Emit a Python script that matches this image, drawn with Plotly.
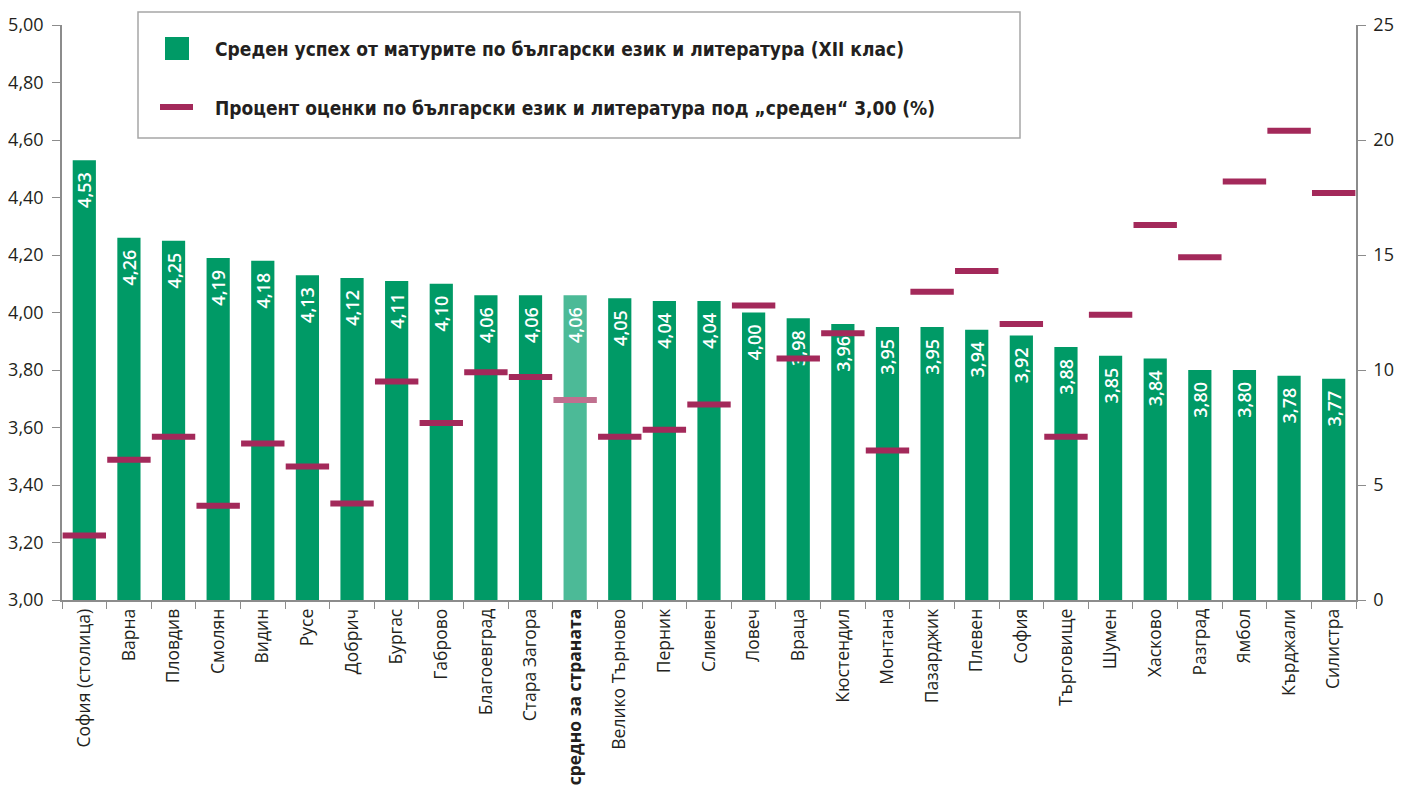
import plotly.graph_objects as go

regions = ["София (столица)", "Варна", "Пловдив", "Смолян", "Видин", "Русе", "Добрич",
           "Бургас", "Габрово", "Благоевград", "Стара Загора", "средно за страната",
           "Велико Търново", "Перник", "Сливен", "Ловеч", "Враца", "Кюстендил", "Монтана",
           "Пазарджик", "Плевен", "София", "Търговище", "Шумен", "Хасково", "Разград",
           "Ямбол", "Кърджали", "Силистра"]
avg_grade = [4.53, 4.26, 4.25, 4.19, 4.18, 4.13, 4.12, 4.11, 4.10, 4.06, 4.06, 4.06,
             4.05, 4.04, 4.04, 4.00, 3.98, 3.96, 3.95, 3.95, 3.94, 3.92, 3.88, 3.85,
             3.84, 3.80, 3.80, 3.78, 3.77]
pct_below3 = [2.8, 6.1, 7.1, 4.1, 6.8, 5.8, 4.2, 9.5, 7.7, 9.9, 9.7, 8.7,
              7.1, 7.4, 8.5, 12.8, 10.5, 11.6, 6.5, 13.4, 14.3, 12.0, 7.1, 12.4,
              16.3, 14.9, 18.2, 20.4, 17.7]
left_ticks = [3.0, 3.2, 3.4, 3.6, 3.8, 4.0, 4.2, 4.4, 4.6, 4.8, 5.0]
right_ticks = [0, 5, 10, 15, 20, 25]
legend_bar = "Среден успех от матурите по български език и литература (XII клас)"
legend_mark = "Процент оценки по български език и литература под „среден“ 3,00 (%)"
mean_name = "средно за страната"

GREEN = "#009A66"
GREEN_L = "#4CBA97"
RED = "#A3295A"
RED_L = "#C0708F"
TXT = "#231F20"
AX = "#8C8C8C"

bar_colors = [GREEN_L if r == mean_name else GREEN for r in regions]
mark_colors = [RED_L if r == mean_name else RED for r in regions]
fmt = lambda v: f"{v:.2f}".replace(".", ",")

fig = go.Figure()
fig.add_trace(go.Bar(
    x=regions, y=avg_grade, marker=dict(color=bar_colors, line=dict(width=0)),
    width=0.52, text=[fmt(v) + "\u2002" for v in avg_grade], textposition="inside",
    insidetextanchor="end", textangle=-90, constraintext="none",
    textfont=dict(color="white", size=18, family="Open Sans", weight=600),
    cliponaxis=True, showlegend=False, hoverinfo="x+y",
))
fig.add_trace(go.Scatter(
    x=regions, y=pct_below3, yaxis="y2", mode="markers",
    marker=dict(symbol="line-ew", size=31, color=mark_colors,
                line=dict(width=6, color=mark_colors)),
    showlegend=False,
))

tickfont = dict(family="Open Sans", size=18, color=TXT)
# page is drawn with an 8px body offset, so margins are reduced by 8
fig.update_layout(
    width=1408, height=788,
    margin=dict(l=54, r=60, t=17, b=196, autoexpand=False),
    plot_bgcolor="white", paper_bgcolor="white",
    bargap=0.48,
    xaxis=dict(type="category", tickson="boundaries", ticks="outside", ticklen=7,
               tickcolor=AX, showline=True, linecolor=AX, linewidth=1.5,
               tickangle=-90, tickmode="array", tickvals=regions,
               ticktext=[f"<b>{r}</b>" if r == mean_name else r for r in regions],
               tickfont=dict(family="Open Sans", size=17.5, color=TXT),
               range=[-0.5, len(regions) - 0.5], showgrid=False, automargin=False),
    yaxis=dict(range=[3.0, 5.0], tickvals=left_ticks, ticktext=[fmt(v) for v in left_ticks],
               ticks="outside", ticklen=8, tickcolor=AX, showline=True, linecolor=AX,
               linewidth=1.5, showgrid=False, zeroline=False, tickfont=tickfont,
               ticklabelstandoff=5, automargin=False),
    yaxis2=dict(range=[0, 25], tickvals=right_ticks, ticktext=[str(v) for v in right_ticks],
                overlaying="y", side="right", ticks="outside", ticklen=8, tickcolor=AX,
                showline=True, linecolor=AX, linewidth=1.5, showgrid=False,
                zeroline=False, tickfont=tickfont, ticklabelstandoff=4, automargin=False),
)

# legend box drawn manually (screen px -> paper coords)
px_x = lambda p: (p - 62) / 1294
px_y = lambda p: (600 - p) / 575
fig.add_shape(type="rect", xref="paper", yref="paper",
              x0=px_x(138), x1=px_x(1020), y0=px_y(138), y1=px_y(12),
              line=dict(color="#A6A6A6", width=1.5), fillcolor="white", layer="above")
fig.add_shape(type="rect", xref="paper", yref="paper",
              x0=px_x(165), x1=px_x(189), y0=px_y(60), y1=px_y(37),
              line=dict(width=0), fillcolor=GREEN, layer="above")
fig.add_shape(type="rect", xref="paper", yref="paper",
              x0=px_x(160), x1=px_x(193), y0=px_y(110), y1=px_y(104),
              line=dict(width=0), fillcolor=RED, layer="above")
legfont = dict(family="Liberation Sans Narrow, DejaVu Sans Condensed, Open Sans",
               size=19, color=TXT, weight="bold")
fig.add_annotation(xref="paper", yref="paper", x=px_x(213), y=px_y(49), text=legend_bar,
                   showarrow=False, xanchor="left", yanchor="middle", font=legfont)
fig.add_annotation(xref="paper", yref="paper", x=px_x(213), y=px_y(108), text=legend_mark,
                   showarrow=False, xanchor="left", yanchor="middle", font=legfont)

fig.write_html("out.html")
